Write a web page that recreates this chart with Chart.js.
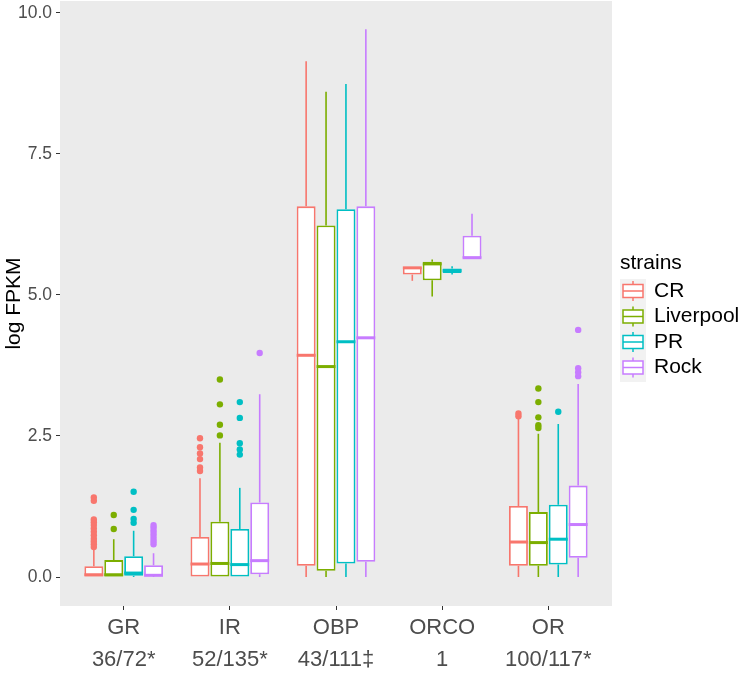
<!DOCTYPE html>
<html>
<head>
<meta charset="utf-8">
<script src="https://cdn.jsdelivr.net/npm/chart.js@4"></script>
<style>
  body { margin: 0; background: #fff; }
  #wrap { width: 742px; height: 673px; position: relative; }
</style>
</head>
<body>
<div id="wrap"><canvas id="boxchart"></canvas></div>
<script>
// Data
const categories = ['GR', 'IR', 'OBP', 'ORCO', 'OR']
const counts = ['36/72*', '52/135*', '43/111\u2021', '1', '100/117*']
const strains = ['CR', 'Liverpool', 'PR', 'Rock']
const yTicks = [0, 2.5, 5, 7.5, 10]

// [whisker low, q1, median, q3, whisker high] per category
const crStats = [
  [0, 0, 0.04, 0.19, 0.49],
  [0, 0, 0.23, 0.71, 1.75],
  [0, 0.2, 3.93, 6.57, 9.14],
  [5.25, 5.36, 5.48, 5.49, 5.49],
  [0, 0.2, 0.62, 1.26, 2.81]
]
const liverpoolStats = [
  [0, 0, 0.04, 0.3, 0.67],
  [0, 0, 0.24, 0.98, 2.38],
  [0, 0.11, 3.73, 6.23, 8.6],
  [4.97, 5.26, 5.55, 5.59, 5.63],
  [0, 0.2, 0.61, 1.15, 2.54]
]
const prStats = [
  [0, 0.02, 0.07, 0.37, 0.82],
  [0, 0, 0.22, 0.85, 1.58],
  [0, 0.24, 4.17, 6.52, 8.74],
  [5.36, 5.39, 5.43, 5.47, 5.51],
  [0, 0.22, 0.67, 1.28, 2.71]
]
const rockStats = [
  [0, 0.02, 0.03, 0.21, 0.42],
  [0, 0.05, 0.29, 1.32, 3.24],
  [0, 0.27, 4.24, 6.57, 9.71],
  [5.65, 5.65, 5.66, 6.05, 6.44],
  [0, 0.34, 0.93, 1.62, 3.42]
]

const crOutliers = [
  [0.53, 0.58, 0.63, 0.68, 0.74, 0.8, 0.86, 0.92, 0.97, 1.02, 1.35, 1.41],
  [1.88, 1.94, 2.09, 2.19, 2.3, 2.46],
  [], [],
  [2.85, 2.9]
]
const liverpoolOutliers = [
  [0.85, 1.1],
  [2.51, 2.7, 3.06, 3.5],
  [], [],
  [2.64, 2.69, 2.83, 3.1, 3.34]
]
const prOutliers = [
  [0.96, 1.03, 1.19, 1.51],
  [2.17, 2.26, 2.37, 2.82, 3.1],
  [], [],
  [2.93]
]
const rockOutliers = [
  [0.58, 0.63, 0.68, 0.73, 0.78, 0.83, 0.88, 0.92],
  [3.97],
  [], [],
  [3.56, 3.63, 3.7, 4.38]
]

const colors = ['#F8766D', '#7CAE00', '#00BFC4', '#C77CFF']
const allStats = [crStats, liverpoolStats, prStats, rockStats]
const allOutliers = [crOutliers, liverpoolOutliers, prOutliers, rockOutliers]
const font = "'Liberation Sans', Arial, sans-serif"

// box plot pieces drawn around the floating bars
const boxPlugin = {
  id: 'boxplot',
  beforeDraw(chart) {
    const { ctx, chartArea: a } = chart
    ctx.save()
    ctx.fillStyle = '#EBEBEB'
    ctx.fillRect(a.left, a.top, a.right - a.left, a.bottom - a.top)
    ctx.restore()
  },
  beforeDatasetsDraw(chart) {
    const { ctx } = chart
    const y = chart.scales.y
    ctx.save()
    ctx.lineWidth = 1.6
    allStats.forEach((stats, i) => {
      ctx.strokeStyle = colors[i]
      chart.getDatasetMeta(i).data.forEach((bar, j) => {
        const s = stats[j]
        ctx.beginPath()
        ctx.moveTo(bar.x, y.getPixelForValue(s[0]))
        ctx.lineTo(bar.x, y.getPixelForValue(s[1]))
        ctx.moveTo(bar.x, y.getPixelForValue(s[3]))
        ctx.lineTo(bar.x, y.getPixelForValue(s[4]))
        ctx.stroke()
      })
    })
    ctx.restore()
  },
  afterDatasetsDraw(chart) {
    const { ctx } = chart
    const y = chart.scales.y
    ctx.save()
    allStats.forEach((stats, i) => {
      ctx.strokeStyle = colors[i]
      ctx.fillStyle = colors[i]
      chart.getDatasetMeta(i).data.forEach((bar, j) => {
        const s = stats[j]
        const m = y.getPixelForValue(s[2])
        ctx.lineWidth = 3
        ctx.beginPath()
        ctx.moveTo(bar.x - bar.width / 2, m)
        ctx.lineTo(bar.x + bar.width / 2, m)
        ctx.stroke()
        allOutliers[i][j].forEach(v => {
          ctx.beginPath()
          ctx.arc(bar.x, y.getPixelForValue(v), 3.2, 0, Math.PI * 2)
          ctx.fill()
        })
      })
    })
    ctx.restore()
  },
  afterDraw(chart) {
    // legend
    const { ctx } = chart
    const left = chart.chartArea.right + 8
    ctx.save()
    ctx.font = '21px ' + font
    ctx.fillStyle = '#000'
    ctx.textBaseline = 'middle'
    ctx.fillText('strains', left, 263)
    ctx.fillStyle = '#F2F2F2'
    ctx.fillRect(left, 279, 26, 103)
    strains.forEach((name, i) => {
      const cy = 291 + i * 25.5
      const cx = left + 13
      ctx.strokeStyle = colors[i]
      ctx.lineWidth = 1.5
      ctx.beginPath()
      ctx.moveTo(cx, cy - 10)
      ctx.lineTo(cx, cy + 10)
      ctx.stroke()
      ctx.fillStyle = '#fff'
      ctx.fillRect(cx - 10, cy - 6.5, 20, 13)
      ctx.strokeRect(cx - 10, cy - 6.5, 20, 13)
      ctx.beginPath()
      ctx.moveTo(cx - 10, cy)
      ctx.lineTo(cx + 10, cy)
      ctx.stroke()
      ctx.fillStyle = '#000'
      ctx.fillText(name, left + 34, cy)
    })
    ctx.restore()
  }
}

const boxConfig = {
  type: 'bar',
  data: {
    datasets: strains.map((name, i) => ({
      label: name,
      data: allStats[i].map((s, j) => ({ x: j + 1, y: [s[1], s[3]] })),
      backgroundColor: '#fff',
      borderColor: colors[i],
      borderWidth: 1.8,
      borderSkipped: false,
      categoryPercentage: 0.75,
      barPercentage: 0.95
    }))
  },
  options: {
    responsive: true,
    maintainAspectRatio: false,
    animation: false,
    layout: { padding: { left: 0, right: 130, top: 1, bottom: 0 } },
    plugins: {
      legend: { display: false },
      tooltip: { enabled: false },
      title: { display: false }
    },
    scales: {
      x: {
        type: 'linear',
        min: 0.4,
        max: 5.6,
        offset: false,
        afterBuildTicks: scale => { scale.ticks = categories.map((c, i) => ({ value: i + 1 })) },
        grid: { offset: false, drawOnChartArea: false, tickLength: 4, tickColor: '#333', lineWidth: 1 },
        border: { display: false },
        ticks: {
          color: '#4D4D4D',
          padding: 2,
          maxRotation: 0,
          font: { family: font, size: 22, lineHeight: 1.45 },
          callback: v => [categories[v - 1], counts[v - 1]]
        },
        afterFit: scale => {
          scale.height = 67
          scale.paddingLeft = 0
          scale.paddingRight = 0
        }
      },
      y: {
        min: -0.514,
        max: 10.21,
        afterBuildTicks: scale => { scale.ticks = yTicks.map(v => ({ value: v })) },
        grid: { drawOnChartArea: false, tickLength: 4, tickColor: '#333', lineWidth: 1 },
        border: { display: false },
        ticks: {
          color: '#4D4D4D',
          padding: 4,
          font: { family: font, size: 17.5 },
          callback: v => v.toFixed(1)
        },
        title: {
          display: true,
          text: 'log FPKM',
          color: '#000',
          padding: { top: 2, bottom: 0 },
          font: { family: font, size: 21 }
        },
        afterFit: scale => {
          scale.width = 60
          scale.paddingTop = 0
          scale.paddingBottom = 0
        }
      }
    }
  },
  plugins: [boxPlugin]
}

new Chart(document.getElementById('boxchart'), boxConfig)
</script>
</body>
</html>
